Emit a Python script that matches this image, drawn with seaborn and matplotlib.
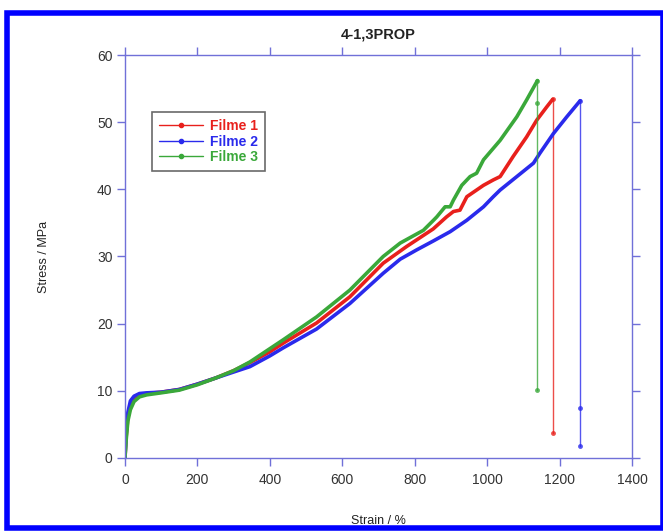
import matplotlib
matplotlib.use("Agg")
import matplotlib.pyplot as plt
import seaborn as sns
import pandas as pd
from matplotlib.lines import Line2D
from matplotlib.patches import Rectangle

sns.set_theme(style="white")
plt.rcParams['font.family'] = ['Liberation Sans', 'DejaVu Sans']

# ---- data ----
labels = ["Filme 1", "Filme 2", "Filme 3"]

strain_1 = [0, 3, 8, 15, 25, 40, 60, 100, 150, 200, 250, 300, 345, 400, 437, 529, 621, 713,
            778, 851, 888, 907, 925, 944, 990, 1017, 1036, 1072, 1109, 1137, 1165, 1181]
stress_1 = [0, 3.0, 6.0, 7.8, 8.8, 9.4, 9.6, 9.8, 10.2, 11.0, 11.9, 13.0, 14.2, 15.8, 17.1, 20.1,
            24.0, 29.0, 31.5, 34.1, 35.9, 36.7, 36.9, 38.9, 40.6, 41.4, 41.9, 44.9, 47.8, 50.3,
            52.3, 53.4]

strain_2 = [0, 3, 8, 15, 25, 40, 60, 100, 150, 200, 250, 300, 345, 400, 437, 529, 621, 713,
            760, 806, 851, 898, 944, 990, 1017, 1036, 1082, 1128, 1146, 1183, 1220, 1257]
stress_2 = [0, 3.5, 6.8, 8.5, 9.2, 9.6, 9.7, 9.8, 10.2, 11.0, 11.9, 12.8, 13.6, 15.2, 16.4, 19.2,
            23.0, 27.5, 29.6, 31.0, 32.3, 33.7, 35.4, 37.4, 38.9, 39.9, 41.9, 43.9, 45.4, 48.3,
            50.8, 53.2]

strain_3 = [0, 3, 8, 15, 25, 40, 60, 100, 150, 200, 250, 300, 345, 437, 529, 621, 713, 760,
            824, 852, 861, 884, 898, 907, 930, 953, 971, 990, 1036, 1082, 1109, 1139]
stress_3 = [0, 2.5, 5.5, 7.2, 8.4, 9.1, 9.4, 9.7, 10.1, 10.9, 11.9, 13.0, 14.3, 17.6, 21.0, 25.0,
            30.0, 32.0, 33.9, 35.4, 35.9, 37.4, 37.4, 38.4, 40.6, 41.9, 42.4, 44.4, 47.3, 50.8,
            53.3, 56.2]

# rupture drops (strain at break, stress points along the drop)
drop_strain = [1181, 1257, 1139]
drop_stress_1 = [53.4, 3.7]
drop_stress_2 = [53.2, 7.4, 1.8]
drop_stress_3 = [56.2, 52.8, 10.1]

colors = ["#e8201c", "#2a2aec", "#3aa83a"]
spine_col = "#7070d8"

fig = plt.figure(figsize=(6.63, 5.31), dpi=100)
ax = fig.add_axes([0.1885, 0.1375, 0.7647, 0.7589])

curves = [(strain_1, stress_1), (strain_2, stress_2), (strain_3, stress_3)]
drops = [drop_stress_1, drop_stress_2, drop_stress_3]
for (sx, sy), c, lab, dx, dy in zip(curves, colors, labels, drop_strain, drops):
    df = pd.DataFrame({"x": sx, "y": sy})
    sns.lineplot(data=df, x="x", y="y", ax=ax, color=c, linewidth=2.6, sort=False,
                 estimator=None)
    dd = pd.DataFrame({"x": [dx] * len(dy), "y": dy})
    sns.lineplot(data=dd, x="x", y="y", ax=ax, color=c, linewidth=1.0, sort=False,
                 estimator=None, marker="o", markersize=3.5, markeredgewidth=0, alpha=0.8)

ax.set_xlim(0, 1400)
ax.set_ylim(0, 60)
ax.set_xticks(range(0, 1401, 200))
ax.set_yticks(range(0, 61, 10))

for s in ax.spines.values():
    s.set_visible(True)
    s.set_color(spine_col)
    s.set_linewidth(1.0)

ax.tick_params(axis="both", which="both", direction="out", length=6, width=1,
               color=spine_col, labelsize=10, labelcolor="#333333",
               top=True, right=True, bottom=True, left=True, pad=3)
ax.tick_params(axis="x", pad=5)

ax.set_xlabel("Strain / %", fontsize=9, color="#222222", labelpad=20)
ax.set_ylabel("Stress / MPa", fontsize=9, color="#222222", labelpad=34)
ax.set_title("4-1,3PROP", fontsize=10.5, fontweight="bold", color="#222222", pad=12)

handles = [Line2D([0], [0], color=c, linewidth=1.0, marker="o", markersize=3)
           for c in colors]
leg = ax.legend(handles, labels, loc="upper left", bbox_to_anchor=(0.053, 0.858),
                borderaxespad=0, fancybox=False, frameon=True, handlelength=3.2,
                prop={"size": 10, "weight": "bold"}, labelspacing=0.1,
                borderpad=0.5, handletextpad=0.5)
leg.get_frame().set_edgecolor("#444444")
leg.get_frame().set_linewidth(1.2)
for t, c in zip(leg.get_texts(), colors):
    t.set_color(c)

# blue figure border
fig.patches.append(Rectangle((0.0105, 0.006), 0.99, 0.97, transform=fig.transFigure,
                             fill=False, edgecolor="#0000ff", linewidth=4))

fig.savefig("out.png", dpi=100)
